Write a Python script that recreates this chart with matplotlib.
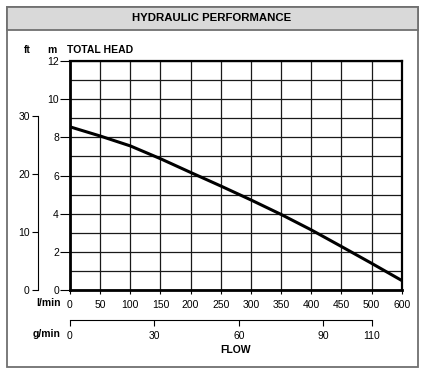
import matplotlib
matplotlib.use("Agg")
import matplotlib.pyplot as plt
import numpy as np
from matplotlib.patches import Rectangle

plt.rcParams['font.family'] = ['Liberation Sans', 'DejaVu Sans']

# Flow axis: the grid has 11 columns, the last one goes 500 -> 600
flow_ticks = [0, 50, 100, 150, 200, 250, 300, 350, 400, 450, 500, 600]
grid_pos = np.arange(len(flow_ticks))

# g/min labels and where they sit on the l/min axis
gpm_labels = [0, 30, 60, 90, 110]
gpm_at_lpm = [0, 140, 280, 420, 500]

# Total head (m)
flow = [0, 50, 100, 150, 200, 250, 300, 350, 400, 450, 500, 600]
head = [8.55, 8.07, 7.55, 6.88, 6.16, 5.45, 4.72, 3.96, 3.15, 2.28, 1.4, 0.5]

m_ticks = [0, 2, 4, 6, 8, 10, 12]
ft_ticks = [0, 10, 20, 30]


def fwd(x):
    return np.interp(x, flow_ticks, grid_pos)


def inv(p):
    return np.interp(p, grid_pos, flow_ticks)


W, H = 427, 376
fig = plt.figure(figsize=(W / 100, H / 100), dpi=100)


def fx(px):
    return px / W


def fy(py):
    return 1 - py / H


# outer frame and header band
fig.patches.append(Rectangle((fx(7), fy(367)), fx(411), 360 / H, transform=fig.transFigure,
                             fill=False, edgecolor='#707070', lw=1.3))
fig.patches.append(Rectangle((fx(7), fy(30)), fx(411), 23 / H, transform=fig.transFigure,
                             facecolor='#d9d9d9', edgecolor='#707070', lw=1.3))
fig.text(fx(212), fy(18), 'HYDRAULIC PERFORMANCE', ha='center', va='center',
         fontsize=8.2, fontweight='bold')

ax = fig.add_axes([fx(70), fy(290), (401.7 - 70) / W, (290 - 61) / H])
ax.set_xscale('function', functions=(fwd, inv))
ax.set_xlim(0, 600)
ax.set_ylim(0, 12)

ax.plot(flow, head, color='black', lw=2.2, solid_capstyle='butt', zorder=3)

# grid
for f in flow_ticks:
    ax.axvline(f, color='#1a1a1a', lw=0.9, zorder=1)
for m in range(13):
    ax.axhline(m, color='#1a1a1a', lw=0.9, zorder=1)

for s in ax.spines.values():
    s.set_linewidth(1.6)
ax.spines['left'].set_linewidth(2)
ax.spines['bottom'].set_linewidth(2)

ax.set_yticks(m_ticks)
ax.tick_params(axis='y', length=7, width=0.8, labelsize=7.5, pad=1)
ax.set_xticks(flow_ticks)
ax.set_xticklabels([str(v) for v in flow_ticks])
ax.tick_params(axis='x', length=3, width=0.8, labelsize=7.5, pad=4)

# ft axis on the left
axf = ax.twinx()
axf.set_ylim(0, 12 / 0.3048)
axf.yaxis.set_ticks_position('left')
axf.yaxis.set_label_position('left')
for k in ['top', 'right', 'bottom']:
    axf.spines[k].set_visible(False)
axf.spines['left'].set_position(('axes', (38 - 70) / 331.7))
axf.spines['left'].set_bounds(0, 30)
axf.spines['left'].set_linewidth(0.8)
axf.set_yticks(ft_ticks)
axf.tick_params(axis='y', length=4, width=0.8, labelsize=7.5, pad=2)

# g/min axis below
axg = ax.twiny()
axg.set_xscale('function', functions=(fwd, inv))
axg.set_xlim(0, 600)
axg.xaxis.set_ticks_position('bottom')
for k in ['top', 'right', 'left']:
    axg.spines[k].set_visible(False)
axg.spines['bottom'].set_position(('axes', (290 - 320) / 229))
axg.spines['bottom'].set_bounds(0, 500)
axg.spines['bottom'].set_linewidth(0.8)
axg.set_xticks(gpm_at_lpm)
axg.set_xticklabels([str(v) for v in gpm_labels])
axg.tick_params(axis='x', length=4, width=0.8, labelsize=7.5, pad=4)

# axis titles
fig.text(fx(27), fy(50), 'ft', ha='center', va='center', fontsize=7.5, fontweight='bold')
fig.text(fx(52), fy(50), 'm', ha='center', va='center', fontsize=7.5, fontweight='bold')
fig.text(fx(67), fy(50), 'TOTAL HEAD', ha='left', va='center', fontsize=7.5, fontweight='bold')
fig.text(fx(61), fy(303), 'l/min', ha='right', va='center', fontsize=7.5, fontweight='bold')
fig.text(fx(61), fy(334), 'g/min', ha='right', va='center', fontsize=7.5, fontweight='bold')
fig.text(fx(236), fy(350), 'FLOW', ha='center', va='center', fontsize=7.5, fontweight='bold')

fig.savefig('out.png', dpi=100)
